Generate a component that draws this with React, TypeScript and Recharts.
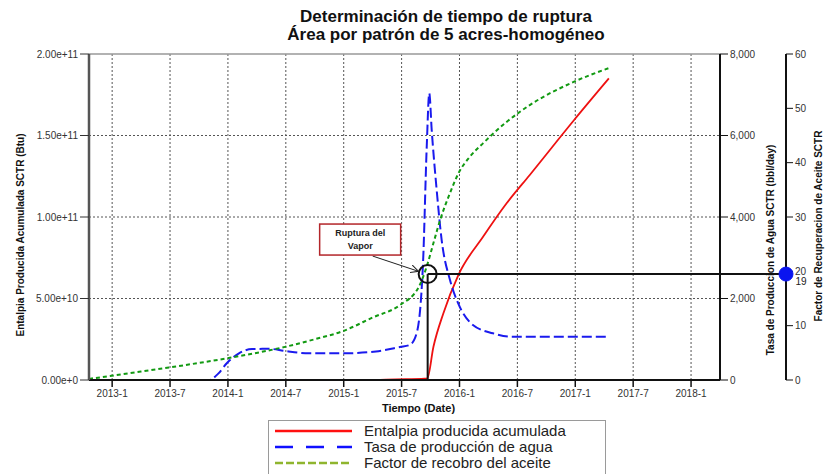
import React from 'react'
import {
  ComposedChart,
  Line,
  XAxis,
  YAxis,
  CartesianGrid,
  Legend,
  ReferenceLine,
  ReferenceDot,
} from 'recharts'

const FONT = 'Arial, "Liberation Sans", Helvetica, sans-serif'

const titleLines = ['Determinación de tiempo de ruptura', 'Área por patrón de 5 acres-homogéneo']

// time in decimal years, ticks every half year
const timeTicks = [2013, 2013.5, 2014, 2014.5, 2015, 2015.5, 2016, 2016.5, 2017, 2017.5, 2018]
const enthalpyTicks = [0, 5e10, 1e11, 1.5e11, 2e11]
const waterTicks = [0, 2000, 4000, 6000, 8000]
const factorTicks = [0, 10, 20, 30, 40, 50, 60]

const enthalpyTime = [2012.8, 2015.2, 2015.45, 2015.7, 2015.722, 2015.775, 2015.861, 2015.99, 2016.205, 2016.407, 2016.607, 2016.99, 2017.29]
const enthalpyBtu = [0, 0, 0.004e11, 0.008e11, 0.01e11, 0.204e11, 0.41e11, 0.644e11, 0.88e11, 1.084e11, 1.258e11, 1.595e11, 1.85e11]

const waterTime = [2012.8, 2013.836, 2013.914, 2013.99, 2014.095, 2014.208, 2014.355, 2014.493, 2014.7, 2014.994, 2015.279, 2015.486, 2015.57, 2015.63, 2015.685, 2015.717, 2015.739, 2015.76, 2015.803, 2015.846, 2015.918, 2015.987, 2016.116, 2016.289, 2016.436, 2016.868, 2017.282]
const waterBbl = [0, 0, 150, 410, 655, 760, 765, 712, 655, 655, 700, 810, 860, 1150, 2870, 5725, 7035, 6135, 4660, 3435, 2454, 1890, 1350, 1146, 1063, 1060, 1060]

const factorTime = [2012.8, 2013.2, 2013.491, 2013.992, 2014.493, 2014.75, 2014.994, 2015.25, 2015.486, 2015.65, 2015.717, 2015.775, 2015.832, 2015.918, 2015.99, 2016.09, 2016.205, 2016.407, 2016.607, 2016.99, 2017.29]
const factorPct = [0.2, 1.4, 2.3, 4.0, 6.1, 7.5, 9.0, 11.5, 13.8, 17.2, 20.9, 25.2, 29.4, 34.4, 38.0, 41.1, 43.6, 47.5, 50.6, 54.9, 57.4]

// breakthrough marker
const breakTime = 2015.725
const breakFactor = 19.5
const breakDotTime = 2018.82
const breakText = ['Ruptura del', 'Vapor']

const seriesNames = ['Entalpia producida acumulada', 'Tasa de producción de agua', 'Factor de recobro del aceite']

const enthalpyData = enthalpyTime.map((t, i) => ({ t, v: enthalpyBtu[i] }))
const waterData = waterTime.map((t, i) => ({ t, v: waterBbl[i] }))
const factorData = factorTime.map((t, i) => ({ t, v: factorPct[i] }))

const legendLook: Record<string, { color: string; dash?: string }> = {
  [seriesNames[0]]: { color: '#ff1010' },
  [seriesNames[1]]: { color: '#1010ff', dash: '18 13' },
  [seriesNames[2]]: { color: '#8fb52e', dash: '8 3' },
}

const fmtTime = (v: number) => {
  const y = Math.floor(v + 1e-6)
  const m = Math.round((v - y) * 12) + 1
  return `${y}-${m}`
}

const tickStyle = { fontSize: 10, fill: '#333', fontFamily: FONT }

const rotatedLabel = (text: string, dx: number, dy: number) => (props: any) => {
  const vb = props.viewBox || { x: 0, y: 0, width: 0, height: 0 }
  const x = vb.x + dx
  const y = vb.y + vb.height / 2 + dy
  return (
    <text
      x={x}
      y={y}
      transform={`rotate(-90 ${x} ${y})`}
      textAnchor="middle"
      dominantBaseline="central"
      fontSize={10}
      fontWeight="bold"
      fontFamily={FONT}
      fill="#111"
    >
      {text}
    </text>
  )
}

const timeLabel = (props: any) => {
  const vb = props.viewBox || { x: 0, y: 0, width: 0 }
  return (
    <text x={vb.x + vb.width / 2 + 14} y={vb.y + 28} textAnchor="middle" dominantBaseline="central" fontSize={11} fontWeight="bold" fontFamily={FONT} fill="#111">
      Tiempo (Date)
    </text>
  )
}

const breakCallout = (props: any) => {
  const vb = props.viewBox
  if (!vb) return null
  const cx = vb.x + vb.width / 2
  const cy = vb.y + vb.height / 2
  return (
    <g>
      <defs>
        <marker id="callArrow" markerWidth="8" markerHeight="8" refX="7" refY="4" orient="auto">
          <path d="M0,0 L8,4 L0,8" fill="none" stroke="#222" strokeWidth={1} />
        </marker>
      </defs>
      <line x1={cx - 55} y1={cy - 18} x2={cx - 10} y2={cy - 3} stroke="#222" strokeWidth={1} markerEnd="url(#callArrow)" />
      <rect x={cx - 108} y={cy - 50} width={81} height={31} fill="#fff" stroke="#b3262a" strokeWidth={1.5} />
      <text x={cx - 67.5} y={cy - 41} textAnchor="middle" dominantBaseline="central" fontSize={9} fontWeight="bold" fontFamily={FONT} fill="#222">
        {breakText[0]}
      </text>
      <text x={cx - 67.5} y={cy - 28} textAnchor="middle" dominantBaseline="central" fontSize={9} fontWeight="bold" fontFamily={FONT} fill="#222">
        {breakText[1]}
      </text>
    </g>
  )
}

const dotLabel = (props: any) => {
  const vb = props.viewBox
  if (!vb) return null
  const cx = vb.x + vb.width / 2
  const cy = vb.y + vb.height / 2
  return (
    <text x={cx + 15} y={cy + 7} textAnchor="middle" dominantBaseline="central" fontSize={10} fontFamily={FONT} fill="#222">
      {Math.floor(breakFactor)}
    </text>
  )
}

const LegendBox = (props: any) => {
  const payload = [...(props.payload || [])].sort(
    (a: any, b: any) => seriesNames.indexOf(a.value) - seriesNames.indexOf(b.value)
  )
  return (
    <div
      style={{
        width: 338,
        height: 62,
        boxSizing: 'border-box',
        border: '1px solid #9a9a9a',
        background: '#fff',
        paddingTop: 2,
        fontFamily: FONT,
        fontSize: 15,
        color: '#222',
      }}
    >
      {payload.map((p: any) => {
        const look = legendLook[p.value] || { color: p.color }
        return (
          <div key={p.value} style={{ display: 'flex', alignItems: 'center', height: 16 }}>
            <svg width={95} height={16}>
              <line x1={6} y1={8} x2={83} y2={8} stroke={look.color} strokeWidth={2.5} strokeDasharray={look.dash} />
            </svg>
            <span style={{ lineHeight: '16px' }}>{p.value}</span>
          </div>
        )
      })}
    </div>
  )
}

export default function App() {
  return (
    <div style={{ position: 'absolute', left: 0, top: 0, width: 829, height: 474, background: '#fff', overflow: 'hidden' }}>
      <div
        style={{
          position: 'absolute',
          left: 246,
          width: 400,
          top: 8,
          textAlign: 'center',
          fontFamily: FONT,
          fontWeight: 'bold',
          fontSize: 17,
          lineHeight: '18px',
          color: '#111',
        }}
      >
        {titleLines.map((l) => (
          <div key={l}>{l}</div>
        ))}
      </div>
      <ComposedChart width={829} height={474} margin={{ top: 54, right: 0, bottom: 0, left: 0 }}>
        <CartesianGrid yAxisId="left" stroke="#555" strokeDasharray="2 2" verticalValues={timeTicks} horizontalValues={[5e10, 1e11, 1.5e11]} />
        <XAxis
          dataKey="t"
          type="number"
          domain={[2012.8, 2018.25]}
          ticks={timeTicks}
          tickFormatter={fmtTime}
          allowDataOverflow
          height={40}
          tick={tickStyle}
          tickSize={7}
          tickMargin={3}
          axisLine={{ stroke: '#111', strokeWidth: 2 }}
          tickLine={{ stroke: '#111', strokeWidth: 1.5 }}
          label={{ content: timeLabel }}
        />
        <YAxis
          yAxisId="left"
          domain={[0, 2e11]}
          ticks={enthalpyTicks}
          tickFormatter={(v: number) => v.toExponential(2)}
          width={89}
          tick={tickStyle}
          tickSize={9}
          tickMargin={2}
          axisLine={{ stroke: '#555', strokeWidth: 2.5 }}
          tickLine={{ stroke: '#333' }}
          label={{ content: rotatedLabel('Entalpia Producida Acumulada SCTR (Btu)', 20, 18) }}
        />
        <YAxis
          yAxisId="r1water"
          orientation="right"
          domain={[0, 8000]}
          ticks={waterTicks}
          tickFormatter={(v: number) => v.toLocaleString('en-US')}
          width={66}
          tick={tickStyle}
          tickSize={8}
          tickMargin={2}
          axisLine={{ stroke: '#111', strokeWidth: 2 }}
          tickLine={{ stroke: '#111' }}
          label={{ content: rotatedLabel('Tasa de Produccion de Agua SCTR (bbl/day)', 50, 33) }}
        />
        <YAxis
          yAxisId="r2factor"
          orientation="right"
          domain={[0, 60]}
          ticks={factorTicks}
          width={43}
          tick={tickStyle}
          tickSize={7}
          tickMargin={2}
          axisLine={{ stroke: '#111', strokeWidth: 2 }}
          tickLine={{ stroke: '#111' }}
          label={{ content: rotatedLabel('Factor de Recuperacion de Aceite SCTR', 32, 9) }}
        />
        <ReferenceLine yAxisId="left" y={2e11} stroke="#999" strokeWidth={1.5} />
        <Line
          yAxisId="left"
          data={enthalpyData}
          dataKey="v"
          name={seriesNames[0]}
          type="monotone"
          stroke="#ee1111"
          strokeWidth={1.8}
          dot={false}
          isAnimationActive={false}
        />
        <Line
          yAxisId="r1water"
          data={waterData}
          dataKey="v"
          name={seriesNames[1]}
          type="monotone"
          stroke="#1a1aee"
          strokeWidth={2}
          strokeDasharray="10 4"
          dot={false}
          isAnimationActive={false}
        />
        <Line
          yAxisId="r2factor"
          data={factorData}
          dataKey="v"
          name={seriesNames[2]}
          type="monotone"
          stroke="#129a12"
          strokeWidth={2}
          strokeDasharray="4 3"
          dot={false}
          isAnimationActive={false}
        />
        <ReferenceLine
          yAxisId="r2factor"
          segment={[{ x: breakTime, y: 0 }, { x: breakTime, y: breakFactor }]}
          stroke="#111"
          strokeWidth={2}
        />
        <ReferenceLine
          yAxisId="r2factor"
          segment={[{ x: breakTime, y: breakFactor }, { x: breakDotTime, y: breakFactor }]}
          stroke="#111"
          strokeWidth={2}
          ifOverflow="visible"
        />
        <ReferenceDot
          yAxisId="r2factor"
          x={breakTime}
          y={breakFactor}
          r={9}
          fill="none"
          stroke="#111"
          strokeWidth={2}
          label={{ content: breakCallout }}
        />
        <ReferenceDot
          yAxisId="r2factor"
          x={breakDotTime}
          y={breakFactor}
          r={7}
          fill="#0a14f0"
          stroke="#0a14f0"
          ifOverflow="visible"
          label={{ content: dotLabel }}
        />
        <Legend
          verticalAlign="bottom"
          content={<LegendBox />}
          wrapperStyle={{ left: 268, bottom: 0, width: 338, height: 54, overflow: 'visible' }}
        />
      </ComposedChart>
    </div>
  )
}
